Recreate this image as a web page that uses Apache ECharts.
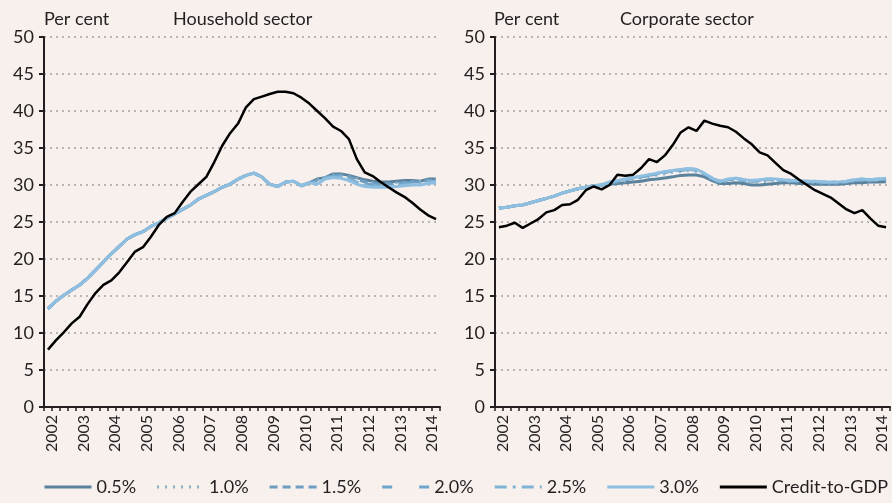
<!DOCTYPE html>
<html>
<head>
<meta charset="utf-8">
<script src="https://cdn.jsdelivr.net/npm/echarts@6/dist/echarts.min.js"></script>
<style>
  html, body { margin: 0; padding: 0; background: #f7f0ed; }
  #chart { width: 892px; height: 503px; }
</style>
</head>
<body>
<div id="chart"></div>
<script>
// quarterly, 50 quarters; year labels sit on the tick before each year's first quarter
var years = ['2002', '2003', '2004', '2005', '2006', '2007', '2008', '2009', '2010', '2011', '2012', '2013', '2014'];
var seriesNames = ['0.5%', '1.0%', '1.5%', '2.0%', '2.5%', '3.0%'];

// Household sector
var hhCredit = [7.75, 9.0, 10.1, 11.3, 12.2, 13.9, 15.4, 16.5, 17.1, 18.2,
  19.6, 21.0, 21.6, 23.0, 24.6, 25.7, 26.2, 27.7, 29.1, 30.1,
  31.1, 33.1, 35.3, 37.0, 38.3, 40.5, 41.6, 41.95, 42.3, 42.6,
  42.6, 42.4, 41.8, 41.0, 40.0, 39.0, 37.9, 37.3, 36.2, 33.5,
  31.7, 31.2, 30.4, 29.7, 29.0, 28.4, 27.6, 26.7, 25.9, 25.4];
var hhCommon = [13.3, 14.3, 15.1, 15.8, 16.5, 17.4, 18.5, 19.6, 20.7, 21.7,
  22.7, 23.3, 23.7, 24.4, 24.9, 25.5, 26.1, 26.7, 27.3, 28.1,
  28.6, 29.1, 29.7, 30.1, 30.8, 31.3, 31.6, 31.1, 30.1, 29.8,
  30.4, 30.5, 29.9, 30.3];
var hh05 = [30.8, 31.0, 31.5, 31.5, 31.3, 31.0, 30.7, 30.5, 30.4, 30.4, 30.5, 30.6, 30.6, 30.5, 30.8, 30.8];
var hh10 = [30.7, 31.0, 31.4, 31.4, 31.2, 30.9, 30.5, 30.3, 30.2, 30.2, 30.3, 30.4, 30.5, 30.5, 30.7, 30.8];
var hh15 = [30.6, 31.0, 31.3, 31.3, 31.1, 30.8, 30.4, 30.2, 30.1, 30.1, 30.2, 30.3, 30.4, 30.4, 30.6, 30.7];
var hh20 = [30.4, 30.9, 31.2, 31.2, 31.0, 30.6, 30.2, 30.0, 30.0, 30.0, 30.1, 30.2, 30.3, 30.3, 30.5, 30.6];
var hh25 = [30.3, 30.9, 31.1, 31.1, 30.8, 30.4, 30.0, 29.9, 29.8, 29.8, 29.9, 30.0, 30.1, 30.2, 30.4, 30.5];
var hh30 = [30.1, 30.8, 31.0, 30.9, 30.6, 30.1, 29.8, 29.7, 29.7, 29.7, 29.8, 29.9, 30.0, 30.0, 30.2, 30.3];

// Corporate sector
var coCredit = [24.3, 24.5, 24.9, 24.2, 24.8, 25.4, 26.3, 26.6, 27.3, 27.4,
  28.0, 29.3, 29.8, 29.4, 30.0, 31.4, 31.25, 31.4, 32.3, 33.5,
  33.1, 34.0, 35.4, 37.1, 37.8, 37.3, 38.7, 38.3, 38.0, 37.8,
  37.2, 36.3, 35.5, 34.4, 34.0, 33.0, 32.0, 31.5, 30.7, 30.0,
  29.3, 28.8, 28.3, 27.5, 26.7, 26.2, 26.6, 25.5, 24.5, 24.3];
var coCommon = [26.9, 27.0, 27.2, 27.3, 27.6, 27.9, 28.2, 28.5, 28.9, 29.2, 29.5, 29.7, 29.9, 30.0];
var co05 = [30.1, 30.2, 30.3, 30.4, 30.5, 30.7, 30.8, 30.95, 31.1, 31.3,
  31.35, 31.35, 31.1, 30.6, 30.2, 30.2, 30.3, 30.2, 30.0, 30.0,
  30.1, 30.2, 30.3, 30.3, 30.2, 30.2, 30.1, 30.1, 30.1, 30.1,
  30.2, 30.3, 30.3, 30.4, 30.4, 30.45];
var co10 = [30.2, 30.4, 30.5, 30.7, 30.9, 31.1, 31.3, 31.5, 31.7, 31.8,
  31.9, 31.8, 31.4, 30.7, 30.3, 30.5, 30.6, 30.5, 30.3, 30.4,
  30.5, 30.5, 30.5, 30.4, 30.4, 30.3, 30.3, 30.2, 30.2, 30.2,
  30.3, 30.5, 30.6, 30.5, 30.6, 30.7];
var co15 = [30.3, 30.5, 30.7, 30.9, 31.1, 31.3, 31.5, 31.7, 31.9, 32.0,
  32.1, 32.0, 31.5, 30.8, 30.4, 30.7, 30.8, 30.6, 30.5, 30.6,
  30.7, 30.7, 30.6, 30.5, 30.5, 30.4, 30.4, 30.3, 30.3, 30.3,
  30.4, 30.6, 30.7, 30.6, 30.7, 30.8];
var co20 = [30.3, 30.5, 30.7, 30.9, 31.1, 31.3, 31.5, 31.7, 31.9, 32.0,
  32.1, 32.0, 31.5, 30.8, 30.5, 30.7, 30.8, 30.7, 30.5, 30.6,
  30.7, 30.7, 30.7, 30.6, 30.5, 30.5, 30.4, 30.4, 30.3, 30.3,
  30.4, 30.6, 30.7, 30.7, 30.8, 30.8];
var co25 = [30.4, 30.6, 30.8, 31.0, 31.2, 31.4, 31.6, 31.8, 31.9, 32.1,
  32.2, 32.1, 31.6, 30.9, 30.5, 30.8, 30.9, 30.7, 30.6, 30.7,
  30.8, 30.8, 30.7, 30.6, 30.6, 30.5, 30.5, 30.4, 30.4, 30.4,
  30.5, 30.7, 30.8, 30.7, 30.8, 30.9];
var co30 = [30.4, 30.6, 30.8, 31.0, 31.2, 31.4, 31.6, 31.8, 31.95, 32.1,
  32.2, 32.1, 31.6, 30.9, 30.5, 30.8, 30.9, 30.7, 30.6, 30.7,
  30.8, 30.8, 30.7, 30.6, 30.6, 30.5, 30.5, 30.4, 30.4, 30.4,
  30.5, 30.7, 30.8, 30.7, 30.8, 30.9];

var hhSeries = [hh05, hh10, hh15, hh20, hh25, hh30].map(function (t) { return hhCommon.concat(t); });
var coSeries = [co05, co10, co15, co20, co25, co30].map(function (t) { return coCommon.concat(t); });

var styles = [
  { color: '#5a829d', width: 3, type: 'solid' },
  { color: '#88b0cc', width: 2.5, type: [2, 6] },
  { color: '#6d9ec0', width: 3, type: [8, 5] },
  { color: '#6ea5cb', width: 3, type: [10, 27] },
  { color: '#7fb3d6', width: 3, type: [12, 6, 3, 6] },
  { color: '#8fbfe0', width: 3, type: 'solid' }
];

var font = 'Lato';
var txt = '#231f20';

function pts(values) {
  return values.map(function (v, i) { return [i + 0.5, v]; });
}

function lineSeries(name, values, idx, st) {
  return {
    name: name,
    type: 'line',
    xAxisIndex: idx,
    yAxisIndex: idx,
    data: pts(values),
    symbol: 'none',
    showSymbol: false,
    lineStyle: { color: st.color, width: st.width, type: st.type },
    itemStyle: { color: st.color },
    emphasis: { disabled: true },
    animation: false
  };
}

function xAxis(idx) {
  return {
    type: 'value',
    gridIndex: idx,
    min: 0,
    max: 50,
    interval: 1,
    axisLine: { show: true, onZero: false, lineStyle: { color: txt, width: 2 } },
    axisTick: { show: true, length: 4, lineStyle: { color: txt, width: 1.5 } },
    splitLine: { show: false },
    axisLabel: {
      rotate: 90,
      margin: 8,
      fontFamily: font,
      fontSize: 16,
      color: txt,
      showMinLabel: true,
      showMaxLabel: true,
      formatter: function (v) {
        var k = (v - 1) / 4;
        return (k >= 0 && k === Math.floor(k) && years[k]) ? years[k] : '';
      }
    }
  };
}

function yAxis(idx) {
  return {
    type: 'value',
    gridIndex: idx,
    min: 0,
    max: 50,
    interval: 5,
    axisLine: { show: true, lineStyle: { color: txt, width: 2 } },
    axisTick: { show: true, length: 5, lineStyle: { color: txt, width: 2 } },
    axisLabel: { fontFamily: font, fontSize: 18, color: txt, margin: 10 },
    splitLine: { show: true, lineStyle: { color: '#a3a3a3', width: 1.5, type: [2, 4] } }
  };
}

var series = [];
seriesNames.forEach(function (n, k) {
  series.push(lineSeries(n, hhSeries[k], 0, styles[k]));
});
seriesNames.forEach(function (n, k) {
  series.push(lineSeries(n, coSeries[k], 1, styles[k]));
});
var blk = { color: '#000000', width: 2.5, type: 'solid' };
series.push(lineSeries('Credit-to-GDP', hhCredit, 0, blk));
series.push(lineSeries('Credit-to-GDP', coCredit, 1, blk));

function titleText(text, left) {
  return {
    text: text, left: left, top: 10, padding: 0,
    textStyle: { fontFamily: font, fontSize: 18, fontWeight: 'normal', color: txt }
  };
}

var chart = echarts.init(document.getElementById('chart'));
chart.setOption({
  backgroundColor: '#f7f0ed',
  animation: false,
  title: [
    titleText('Per cent', 44),
    titleText('Household sector', 173),
    titleText('Per cent', 494),
    titleText('Corporate sector', 620)
  ],
  legend: {
    data: seriesNames.concat(['Credit-to-GDP']),
    left: 43,
    top: 478,
    padding: 0,
    itemWidth: 47,
    itemHeight: 14,
    itemGap: 19.5,
    itemStyle: { opacity: 0 },
    lineStyle: { width: 3 },
    textStyle: { fontFamily: font, fontSize: 18, color: txt },
    selectedMode: false
  },
  grid: [
    { left: 44, top: 37, width: 396, height: 370 },
    { left: 495, top: 37, width: 395, height: 370 }
  ],
  xAxis: [xAxis(0), xAxis(1)],
  yAxis: [yAxis(0), yAxis(1)],
  series: series
});
</script>
</body>
</html>
